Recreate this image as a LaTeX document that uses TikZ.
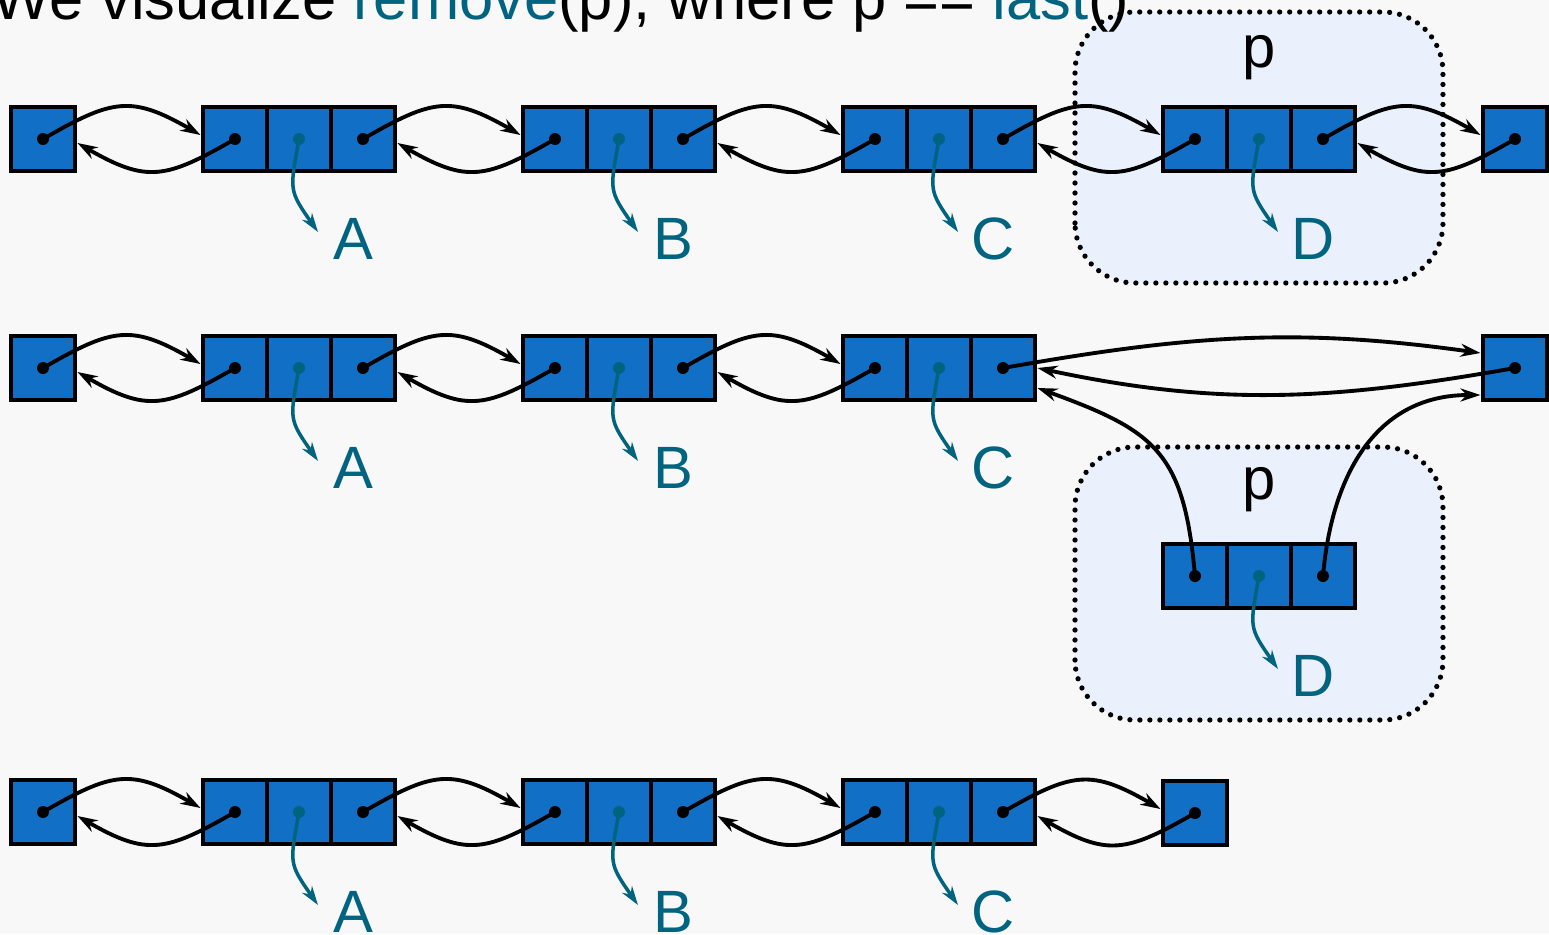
\documentclass[tikz,border=0pt]{standalone}
\usepackage{fontspec}
\setmainfont{Liberation Sans}
\usepackage{xcolor}
\usetikzlibrary{arrows.meta,positioning,backgrounds}

\definecolor{cellblue}{RGB}{17,111,198}
\definecolor{ptrteal}{RGB}{0,99,128}
\definecolor{pfill}{RGB}{234,241,253}
\definecolor{bgpaper}{RGB}{248,248,248}

\tikzset{
  cell/.style={rectangle, draw, line width=2.6pt, fill=cellblue, minimum width=1.28cm, minimum height=1.28cm, inner sep=0pt, outer sep=0pt},
  ptr/.style={line width=2.2pt, -{Stealth[length=0.4cm,width=0.26cm]}},
  elem/.style={line width=2pt, draw=ptrteal, -{Stealth[length=0.38cm,width=0.24cm]}},
  lbl/.style={text=ptrteal, font=\fontsize{34}{40}\selectfont, inner sep=0pt},
  pbox/.style={line width=3pt, dash pattern=on 0pt off 0.2cm, line cap=round, fill=pfill, rounded corners=1.2cm},
}

\begin{document}
\begin{tikzpicture}[x=0.02cm, y=0.02cm]
  \useasboundingbox (0,0) rectangle (1549,-934);

  % Title
  \node[anchor=base west, inner sep=0pt, font=\fontsize{35}{40}\selectfont] (title) at (-8,-19)
    {We visualize \textcolor{ptrteal}{remove}(p), where p == \textcolor{ptrteal}{last}()};

  % Nodes
  \foreach \r/\y in {1/-139, 2/-368, 3/-812} {
    \node[cell] (n\r-0-c) at (43,\y) {};
    \foreach \i/\x/\t in {1/235/A, 2/555/B, 3/875/C} {
      \node[cell] (n\r-\i-a) at (\x,\y) {};
      \node[cell, right=0pt of n\r-\i-a] (n\r-\i-b) {};
      \node[cell, right=0pt of n\r-\i-b] (n\r-\i-c) {};
      \node[lbl] (l\r-\i) at ([xshift=1.08cm,yshift=-2cm]n\r-\i-b.center) {\t};
    }
  }
  \node[cell] (n1-4-a) at (1195,-139) {};
  \node[cell, right=0pt of n1-4-a] (n1-4-b) {};
  \node[cell, right=0pt of n1-4-b] (n1-4-c) {};
  \node[lbl] (l1-4) at ([xshift=1.08cm,yshift=-2cm]n1-4-b.center) {D};
  \node[cell] (n1-5-a) at (1515,-139) {};

  \node[cell] (n2-4-a) at (1195,-576) {};
  \node[cell, right=0pt of n2-4-a] (n2-4-b) {};
  \node[cell, right=0pt of n2-4-b] (n2-4-c) {};
  \node[lbl] (l2-4) at ([xshift=1.08cm,yshift=-2cm]n2-4-b.center) {D};
  \node[cell] (n2-5-a) at (1515,-368) {};

  \node[cell] (n3-4-a) at (1195,-813) {};

  \node[font=\fontsize{34}{40}\selectfont, inner sep=0pt] (p1) at ([yshift=1.63cm]n1-4-b.center) {p};
  \node[font=\fontsize{34}{40}\selectfont, inner sep=0pt] (p2) at ([yshift=1.72cm]n2-4-b.center) {p};

  % Links
  \foreach \r/\i/\j in {1/0/1,1/1/2,1/2/3,1/3/4,1/4/5,2/0/1,2/1/2,2/2/3,3/0/1,3/1/2,3/2/3,3/3/4} {
    \fill (n\r-\i-c.center) circle[radius=0.12cm];
    \fill (n\r-\j-a.center) circle[radius=0.12cm];
    \draw[ptr] (n\r-\i-c.center) to[out=30,in=150,looseness=1.3] ([xshift=-0.05cm,yshift=0.08cm]n\r-\j-a.west);
    \draw[ptr] (n\r-\j-a.center) to[out=-150,in=-30,looseness=1.3] ([xshift=0.05cm,yshift=-0.08cm]n\r-\i-c.east);
  }

  % removed node
  \fill (n2-3-c.center) circle[radius=0.12cm];
  \fill (n2-5-a.center) circle[radius=0.12cm];
  \fill (n2-4-a.center) circle[radius=0.12cm];
  \fill (n2-4-c.center) circle[radius=0.12cm];
  \draw[ptr] (n2-3-c.center) to[out=10,in=172] ([xshift=-0.05cm,yshift=0.3cm]n2-5-a.west);
  \draw[ptr] (n2-5-a.center) to[out=190,in=-12] ([xshift=0.05cm]n2-3-c.east);
  \draw[ptr] (n2-4-a.center) to[out=95,in=-20,looseness=1.3] ([xshift=0.05cm,yshift=-0.4cm]n2-3-c.east);
  \draw[ptr] (n2-4-c.center) to[out=85,in=180,looseness=1.1] ([xshift=-0.05cm,yshift=-0.54cm]n2-5-a.west);

  % Elements
  \foreach \r/\i in {1/1,1/2,1/3,1/4,2/1,2/2,2/3,2/4,3/1,3/2,3/3} {
    \fill[ptrteal] (n\r-\i-b.center) circle[radius=0.12cm];
    \draw[elem] (n\r-\i-b.center) to[out=-100,in=125,looseness=1.4] ([xshift=-0.7cm,yshift=0.14cm]l\r-\i.center);
  }

  % Windows
  \begin{scope}[on background layer]
    \fill[bgpaper] (0,0) rectangle (1549,-934);
    \draw[pbox] ([shift={(-88,-112)}]n1-4-a.south west) rectangle ([shift={(88,95)}]n1-4-c.north east);
    \draw[pbox] ([shift={(-88,-112)}]n2-4-a.south west) rectangle ([shift={(88,97)}]n2-4-c.north east);
  \end{scope}

\end{tikzpicture}
\end{document}
